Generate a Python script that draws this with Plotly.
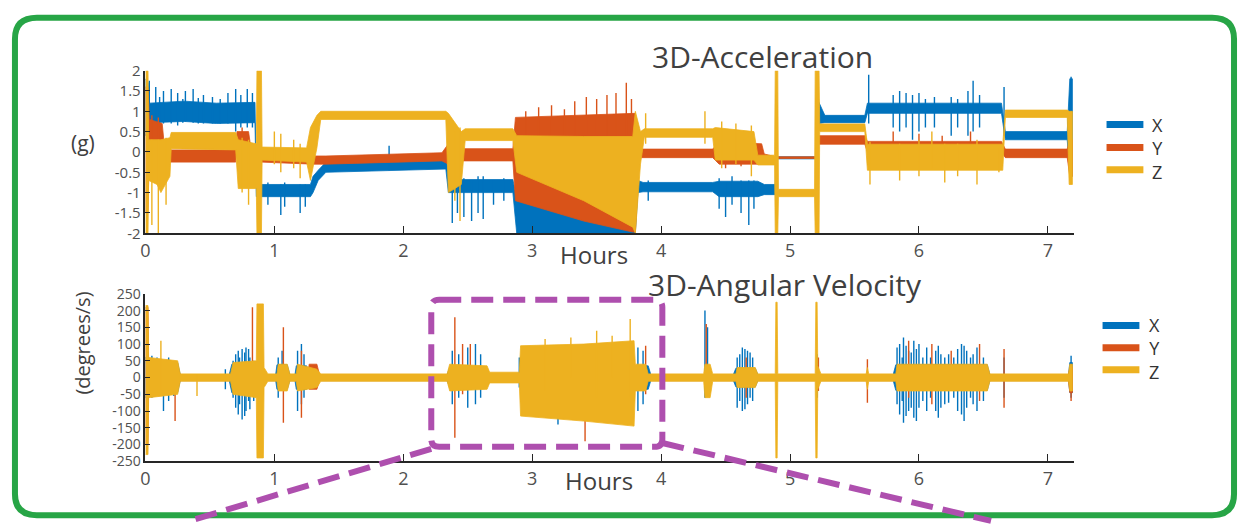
import plotly.graph_objects as go

FIG_W, FIG_H = 1240, 528

SERIES_NAMES = ["X", "Y", "Z"]
SERIES_COLORS = ["#0072BD", "#D95319", "#EDB120"]

HOUR_TICKS = [0, 1, 2, 3, 4, 5, 6, 7]
HOUR_LABELS = ["0", "1", "2", "3", "4", "5", "6", "7"]
ACC_TICKS = [-2, -1.5, -1, -0.5, 0, 0.5, 1, 1.5, 2]
ACC_LABELS = ["-2", "-1.5", "-1", "-0.5", "0", "0.5", "1", "1.5", "2"]
GYRO_TICKS = [-250, -200, -150, -100, -50, 0, 50, 100, 150, 200, 250]
GYRO_LABELS = ["-250", "-200", "-150", "-100", "-50", "0", "50", "100", "150", "200", "250"]

# ---- 3D acceleration (g): envelope (hours, low, high) ----
ACC_X_ENV = [(0.00, 0.4, 1.8), (0.02, 0.5, 1.7), (0.03, 0.72, 1.2), (0.30, 0.75, 1.25), (0.55, 0.7, 1.2),
             (0.85, 0.72, 1.22), (0.86, -1.1, -0.75),
             (0.90, -1.1, -0.8), (1.28, -1.1, -0.8), (1.30, -1.0, -0.6), (1.34, -0.7, -0.45), (1.40, -0.5, -0.25),
             (2.33, -0.42, -0.2), (2.35, -1.0, -0.4), (2.40, -1.0, -0.68), (2.85, -1.0, -0.68), (2.88, -2.0, -1.15),
             (3.80, -2.0, -1.15), (3.82, -1.0, -0.7), (3.86, -0.98, -0.75), (4.40, -0.98, -0.75), (4.45, -1.1, -0.72),
             (4.75, -1.1, -0.72), (4.80, -1.05, -0.8), (4.885, -1.05, -0.8), (4.89, -0.17, -0.12), (5.19, -0.17, -0.12),
             (5.215, -0.17, -0.12), (5.22, 0.7, 1.25), (5.27, 0.72, 0.9), (5.58, 0.72, 0.9), (5.60, 0.95, 1.2),
             (6.64, 0.95, 1.2), (6.67, 0.3, 0.5), (7.15, 0.3, 0.5), (7.17, -0.6, 1.8), (7.19, -0.6, 1.8)]
ACC_Y_ENV = [(0.00, -1.5, 1.6), (0.02, -1.5, 1.6), (0.03, 0.15, 0.8), (0.13, 0.1, 0.7), (0.15, -0.25, 0.05),
             (0.70, -0.25, 0.05), (0.71, 0.05, 0.5), (0.80, 0.05, 0.5), (0.82, -0.3, 0.05), (0.90, -0.25, -0.05),
             (1.30, -0.3, -0.1), (1.40, -0.3, -0.1), (2.30, -0.22, -0.02), (2.35, -0.3, 0.2), (2.45, -0.22, 0.08),
             (2.85, -0.22, 0.08), (2.87, -1.2, 0.85), (3.40, -1.7, 0.9), (3.78, -1.97, 0.95), (3.80, -1.97, 0.95),
             (3.83, -0.14, 0.07), (4.40, -0.14, 0.07), (4.45, -0.3, 0.25), (4.78, -0.3, 0.2), (4.80, -0.22, -0.05),
             (4.885, -0.2, -0.1), (4.89, -0.16, -0.12), (5.19, -0.16, -0.12), (5.215, -0.16, -0.12), (5.22, 0.19, 0.4),
             (5.58, 0.19, 0.4), (5.60, 0.0, 0.26), (6.64, 0.0, 0.26), (6.67, -0.14, 0.07), (7.15, -0.14, 0.07),
             (7.17, -0.6, 0.3), (7.19, -0.6, 0.3)]
ACC_Z_ENV = [(0.00, -2.0, 2.0), (0.02, -2.0, 2.0), (0.025, -0.7, 0.3), (0.09, -0.8, 0.3), (0.12, -1.0, 0.3),
             (0.19, -0.6, 0.35), (0.20, 0.08, 0.48), (0.70, 0.05, 0.48), (0.72, -0.9, 0.3), (0.86, -0.9, 0.2),
             (0.865, -2.0, 2.0), (0.90, -2.0, 2.0), (0.905, -0.2, 0.12), (1.25, -0.25, 0.1), (1.28, -0.7, 0.6),
             (1.33, 0.1, 0.9), (1.36, 0.8, 1.0), (2.33, 0.8, 1.0), (2.35, -1.0, 0.95), (2.45, -0.8, 0.5),
             (2.48, 0.28, 0.57), (2.85, 0.28, 0.57), (2.88, -0.5, 0.4), (3.40, -1.2, 0.38), (3.78, -1.85, 0.38),
             (3.80, -2.0, 1.0), (3.84, -0.3, 0.5), (3.87, 0.36, 0.57), (4.40, 0.36, 0.57), (4.42, -0.2, 0.6),
             (4.72, -0.2, 0.5), (4.75, -0.32, -0.08), (4.88, -0.32, -0.08), (4.885, -2.0, 2.0), (4.905, -2.0, 2.0),
             (4.91, -1.1, -0.92), (5.19, -1.1, -0.92), (5.195, -2.0, 2.0), (5.225, -2.0, 2.0), (5.23, 0.5, 0.69),
             (5.58, 0.5, 0.69), (5.60, -0.45, 0.19), (6.65, -0.45, 0.19), (6.67, 0.85, 1.03), (7.15, 0.85, 1.03),
             (7.165, -0.8, 1.0), (7.19, -0.8, 1.0)]

# spikes (hours, low, high)
ACC_X_SPIKES = [(0.03, 0.3, 1.75), (0.08, 0.6, 1.6), (0.11, 0.65, 1.35), (0.14, 0.7, 1.5), (0.20, 0.7, 1.55),
                (0.25, 0.65, 1.45), (0.29, 0.72, 1.3), (0.31, 0.75, 1.5), (0.37, 0.72, 1.55), (0.41, 0.7, 1.33),
                (0.45, 0.7, 1.4), (0.52, 0.7, 1.35), (0.58, 0.7, 1.3), (0.64, 0.7, 1.45), (0.70, 0.5, 1.55),
                (0.74, 0.6, 1.4), (0.79, 0.6, 1.55), (0.83, 0.6, 1.45),
                (0.95, -1.3, -0.75), (1.05, -1.55, -0.8), (1.08, -1.35, -0.75), (1.20, -1.5, -0.8), (1.24, -1.35, -0.8),
                (1.89, -0.45, 0.15), (2.38, -1.75, -0.6), (2.42, -1.5, -0.7), (2.47, -1.6, -0.65), (2.53, -1.7, -0.7),
                (2.58, -1.5, -0.6), (2.62, -1.65, -0.6), (2.70, -1.3, -0.7), (2.78, -1.2, -0.65), (3.90, -1.2, -0.7),
                (4.45, -1.4, -0.65), (4.50, -1.6, -0.75), (4.55, -1.3, -0.6), (4.62, -1.5, -0.7), (4.68, -1.8, -0.7),
                (4.72, -1.4, -0.7), (5.22, 0.6, 1.3), (5.61, 0.7, 1.9), (5.80, 0.6, 1.4), (5.85, 0.5, 1.5),
                (5.90, 0.6, 1.45), (5.95, 0.3, 1.4), (6.00, 0.5, 1.45), (6.05, 0.6, 1.3), (6.12, 0.6, 1.35),
                (6.25, 0.4, 1.35), (6.30, 0.6, 1.3), (6.38, 0.4, 1.5), (6.42, 0.5, 1.75), (6.47, 0.6, 1.4),
                (6.66, 0.4, 1.6), (7.18, 0.3, 1.85)]
ACC_Y_SPIKES = [(0.05, -0.4, 0.9), (0.10, -0.3, 0.85), (0.75, -0.3, 0.6), (2.95, 0.4, 1.0), (3.05, 0.4, 1.1),
                (3.15, 0.4, 1.15), (3.25, 0.4, 1.05), (3.33, 0.4, 1.25), (3.42, 0.4, 1.35), (3.50, 0.4, 1.3),
                (3.58, 0.4, 1.4), (3.65, 0.4, 1.45), (3.73, 0.4, 1.7), (3.77, 0.4, 1.3), (4.50, -0.4, 0.35),
                (4.62, -0.35, 0.3), (5.80, -0.15, 0.5), (6.00, -0.2, 0.45), (6.18, -0.2, 0.4), (6.40, -0.1, 0.5)]
ACC_Z_SPIKES = [(0.05, -1.8, 0.3), (0.10, -2.0, 0.3), (0.16, -1.3, 0.35), (0.75, -1.0, 0.35), (0.80, -1.3, 0.3),
                (1.00, -0.3, 0.5), (1.05, -0.5, 0.45), (1.15, -0.4, 0.3), (1.20, -0.65, 0.2), (2.40, -1.2, 0.5),
                (2.44, -1.7, 0.6), (3.88, 0.2, 0.95), (4.34, 0.2, 1.0), (4.47, -0.4, 0.75), (4.58, -0.3, 0.7),
                (4.70, -0.6, 0.65), (5.62, -0.8, 0.25), (5.85, -0.7, 0.2), (6.00, -0.6, 0.3), (6.10, -0.4, 0.5),
                (6.20, -0.75, 0.2), (6.30, -0.6, 0.2), (6.45, -0.8, 0.3), (6.62, -0.5, 0.1)]

# ---- 3D angular velocity (degrees/s) ----
GYRO_X_ENV = [(0.00, -60, 60), (0.02, -60, 60), (0.025, -45, 45), (0.25, -45, 45), (0.27, -9, 9),
              (0.65, -9, 9), (0.67, -45, 40), (0.90, -45, 40), (0.93, -9, 9), (1.01, -9, 9),
              (1.02, -35, 38), (1.10, -35, 38), (1.12, -9, 9), (1.16, -9, 9), (1.17, -35, 35),
              (1.25, -35, 35), (1.27, -9, 9), (2.34, -9, 9), (2.36, -30, 30), (2.64, -30, 30),
              (2.66, -9, 9), (3.80, -9, 9), (3.82, -35, 35), (3.90, -35, 35), (3.92, -9, 9),
              (4.56, -9, 9), (4.58, -28, 28), (4.73, -28, 28), (4.75, -9, 9), (5.80, -9, 9),
              (5.82, -38, 38), (6.53, -38, 38), (6.55, -9, 9), (7.16, -9, 9), (7.17, -45, 45), (7.19, -45, 45)]
GYRO_Y_ENV = [(0.00, -200, 210), (0.02, -200, 210), (0.025, -30, 30), (0.25, -30, 30), (0.27, -9, 9),
              (1.26, -9, 9), (1.27, -35, 40), (1.33, -35, 40), (1.35, -9, 9), (7.16, -9, 9),
              (7.17, -45, 30), (7.19, -45, 30)]
GYRO_Z_ENV = [(0.00, -230, 215), (0.02, -230, 215), (0.025, -60, 60), (0.25, -50, 50), (0.27, -11, 11),
              (0.66, -11, 11), (0.68, -50, 45), (0.86, -60, 50), (0.865, -240, 220), (0.915, -240, 220),
              (0.92, -30, 30), (0.95, -11, 11), (1.02, -11, 11), (1.03, -40, 40), (1.10, -40, 40),
              (1.12, -11, 11), (1.17, -11, 11), (1.18, -40, 40), (1.33, -30, 25), (1.36, -11, 11),
              (2.34, -11, 11), (2.36, -40, 40), (2.65, -35, 35), (2.67, -16, 16), (2.90, -16, 16),
              (2.91, -115, 95), (3.40, -130, 100), (3.79, -145, 110), (3.80, -40, 40), (3.88, -40, 40),
              (3.90, -11, 11), (4.33, -11, 11), (4.34, -60, 40), (4.38, -60, 40), (4.40, -11, 11),
              (4.58, -11, 11), (4.59, -30, 30), (4.73, -30, 30), (4.75, -11, 11), (4.885, -11, 11),
              (4.89, -240, 225), (4.90, -240, 225), (4.905, -11, 11), (5.195, -11, 11), (5.20, -240, 225),
              (5.21, -240, 225), (5.215, -35, 35), (5.24, -11, 11), (5.59, -11, 11), (5.60, -35, 30),
              (5.61, -11, 11), (5.82, -11, 11), (5.83, -40, 40), (6.53, -40, 40), (6.55, -11, 11),
              (7.16, -11, 11), (7.17, -40, 40), (7.19, -40, 40)]

GYRO_X_SPIKES = [(0.05, -60, 65), (0.09, -40, 60), (0.14, -100, 50), (0.18, -70, 60), (0.22, -55, 45),
                 (0.62, -35, 25), (0.68, -60, 50), (0.70, -90, 70), (0.72, -110, 80), (0.73, -80, 60),
                 (0.75, -125, 85), (0.77, -115, 75), (0.78, -100, 90), (0.80, -70, 85),
                 (0.81, -95, 60), (0.84, -70, 50), (1.03, -60, 60), (1.06, -40, 80), (1.18, -100, 80),
                 (1.21, -80, 100), (1.23, -60, 70), (2.38, -80, 80), (2.43, -60, 70), (2.50, -90, 90),
                 (2.56, -80, 100), (2.60, -60, 70), (2.90, -30, 60), (3.20, -140, 60), (3.55, -125, 60),
                 (3.82, -100, 90), (3.86, -80, 80), (4.34, -60, 200), (4.36, -40, 150), (4.59, -90, 60),
                 (4.61, -70, 70), (4.63, -100, 90), (4.65, -95, 85), (4.67, -80, 80), (4.69, -60, 75),
                 (4.71, -70, 60), (5.21, -60, 70), (5.83, -80, 90), (5.85, -110, 100), (5.87, -70, 60),
                 (5.88, -135, 120), (5.90, -115, 95), (5.92, -100, 80), (5.94, -90, 75), (5.96, -120, 110),
                 (5.98, -130, 85), (6.00, -90, 100), (6.03, -70, 60), (6.06, -100, 90), (6.09, -60, 60),
                 (6.13, -100, 80), (6.15, -120, 95), (6.17, -90, 70), (6.20, -80, 60), (6.23, -75, 70),
                 (6.27, -60, 60), (6.30, -100, 85), (6.33, -110, 100), (6.35, -130, 95), (6.37, -90, 80),
                 (6.40, -60, 60), (6.42, -80, 70), (6.45, -100, 90), (6.50, -70, 60), (6.66, -60, 60),
                 (7.18, -60, 65)]
GYRO_Y_SPIKES = [(0.01, -200, 205), (0.23, -130, 30), (0.83, -20, 210), (1.07, -135, 150), (1.21, -120, 80),
                 (2.40, -180, 180), (2.46, -50, 100), (2.52, -30, 100), (3.41, -190, 0), (3.88, -50, 95),
                 (4.35, -30, 160), (4.66, -60, 60), (5.22, -40, 60), (5.60, -75, 55), (5.92, -60, 110),
                 (6.10, -80, 100), (6.25, -40, 80), (6.47, -70, 100), (6.66, -90, 85), (7.18, -70, 40)]
GYRO_Z_SPIKES = [(0.12, -40, 110), (0.40, -55, 10), (3.10, -40, 115), (3.30, 0, 120), (3.50, -60, 140),
                 (3.62, 0, 125), (3.76, -60, 175)]

ACC_ENVS = [ACC_X_ENV, ACC_Y_ENV, ACC_Z_ENV]
ACC_SPIKES = [ACC_X_SPIKES, ACC_Y_SPIKES, ACC_Z_SPIKES]
GYRO_ENVS = [GYRO_X_ENV, GYRO_Y_ENV, GYRO_Z_ENV]
GYRO_SPIKES = [GYRO_X_SPIKES, GYRO_Y_SPIKES, GYRO_Z_SPIKES]


def px(x):
    return x / FIG_W


def py(y):
    return 1 - y / FIG_H


def band_xy(env):
    t = [p[0] for p in env]
    lo = [p[1] for p in env]
    hi = [p[2] for p in env]
    return t + t[::-1], hi + lo[::-1]


def spike_xy(sp):
    xs, ys = [], []
    for t, lo, hi in sp:
        xs += [t, t, None]
        ys += [lo, hi, None]
    return xs, ys


fig = go.Figure()

for envs, spikes, xa, ya in [(ACC_ENVS, ACC_SPIKES, "x", "y"), (GYRO_ENVS, GYRO_SPIKES, "x2", "y2")]:
    for name, color, env, sp in zip(SERIES_NAMES, SERIES_COLORS, envs, spikes):
        bx, by = band_xy(env)
        fig.add_trace(go.Scatter(x=bx, y=by, mode="lines", fill="toself", fillcolor=color, name=name,
                                 line=dict(color=color, width=0.8), showlegend=False,
                                 hoverinfo="skip", xaxis=xa, yaxis=ya))
        sx, sy = spike_xy(sp)
        fig.add_trace(go.Scatter(x=sx, y=sy, mode="lines", line=dict(color=color, width=1.4), name=name,
                                 showlegend=False, hoverinfo="skip", xaxis=xa, yaxis=ya))

AX_COLOR = "#262626"
TICK_FONT = dict(family="Open Sans", size=18, color="#505050")
x_common = dict(range=[0, 7.2], domain=[px(141), px(1073)], tickvals=HOUR_TICKS, ticktext=HOUR_LABELS,
                ticks="inside", ticklen=8, tickcolor=AX_COLOR, showline=True, linecolor=AX_COLOR,
                linewidth=1.5, showgrid=False, zeroline=False, tickfont=TICK_FONT, fixedrange=True)

fig.update_layout(
    width=FIG_W, height=FIG_H, autosize=False,
    margin=dict(l=0, r=0, t=0, b=0),
    paper_bgcolor="white", plot_bgcolor="white",
    font=dict(family="Open Sans", color="#333333"),
    showlegend=False,
    xaxis=dict(anchor="y", **x_common),
    xaxis2=dict(anchor="y2", **x_common),
    yaxis=dict(anchor="x", range=[-2, 2], domain=[py(231), py(62)], tickvals=ACC_TICKS, ticktext=ACC_LABELS,
               ticks="inside", ticklen=5, tickcolor=AX_COLOR, showline=True, linecolor=AX_COLOR, linewidth=1.5,
               showgrid=False, zeroline=False, tickfont=dict(family="Open Sans", size=15, color="#505050")),
    yaxis2=dict(anchor="x2", range=[-250, 250], domain=[py(468), py(294)], tickvals=GYRO_TICKS,
                ticktext=GYRO_LABELS, ticks="inside", ticklen=5, tickcolor=AX_COLOR, showline=True,
                linecolor=AX_COLOR, linewidth=1.5, showgrid=False, zeroline=False,
                tickfont=dict(family="Open Sans", size=14, color="#505050")),
)

ann = [
    dict(text="3D-Acceleration", x=px(761), y=py(47), size=30),
    dict(text="3D-Angular Velocity", x=px(783), y=py(284), size=30),
    dict(text="Hours", x=px(591), y=py(253), size=24),
    dict(text="Hours", x=px(596), y=py(488), size=24),
    dict(text="(g)", x=px(78), y=py(137), size=21),
]
for a in ann:
    fig.add_annotation(text=a["text"], x=a["x"], y=a["y"], xref="paper", yref="paper", showarrow=False,
                       xanchor="center", yanchor="middle",
                       font=dict(family="Open Sans", size=a["size"], color="#404040"))
fig.add_annotation(text="(degrees/s)", x=px(78), y=py(345), xref="paper", yref="paper", showarrow=False,
                   textangle=-90, xanchor="center", yanchor="middle",
                   font=dict(family="Open Sans", size=20, color="#404040"))

# legends (line swatch per series + stacked labels) for both panels
LEGEND_ROWS_TOP = [118, 142, 165]
LEGEND_ROWS_BOTTOM = [327, 350, 373]
for rows, x0, x1, xt in [(LEGEND_ROWS_TOP, 1106, 1143, 1157), (LEGEND_ROWS_BOTTOM, 1102, 1139, 1154)]:
    for name, color, yrow in zip(SERIES_NAMES, SERIES_COLORS, rows):
        fig.add_shape(type="line", x0=px(x0), x1=px(x1), y0=py(yrow), y1=py(yrow), xref="paper", yref="paper",
                      line=dict(color=color, width=7))
    fig.add_annotation(text="<br>".join(SERIES_NAMES), x=px(xt), y=py(rows[1] + 1), xref="paper", yref="paper",
                       showarrow=False, xanchor="center", yanchor="middle", align="center",
                       font=dict(family="Open Sans", size=18, color="#333333"))


def rounded_rect(x0, y0, x1, y1, r):
    rx, ry = r / FIG_W, r / FIG_H
    X0, X1 = px(x0), px(x1)
    Y0, Y1 = py(y0), py(y1)  # Y0 is top (higher)
    return (f"M {X0 + rx},{Y0} L {X1 - rx},{Y0} Q {X1},{Y0} {X1},{Y0 - ry} "
            f"L {X1},{Y1 + ry} Q {X1},{Y1} {X1 - rx},{Y1} L {X0 + rx},{Y1} Q {X0},{Y1} {X0},{Y1 + ry} "
            f"L {X0},{Y0 - ry} Q {X0},{Y0} {X0 + rx},{Y0} Z")


GREEN = "#27A546"
MAGENTA = "#AE4FAE"
fig.add_shape(type="path", path=rounded_rect(10, 7, 1234, 524, 22), xref="paper", yref="paper",
              line=dict(color=GREEN, width=6), layer="above")
fig.add_shape(type="path", path=rounded_rect(428, 300, 660, 453, 8), xref="paper", yref="paper",
              line=dict(color=MAGENTA, width=6, dash="22px,10px"), layer="above")
fig.add_shape(type="line", x0=px(428), y0=py(455), x1=px(185), y1=py(530), xref="paper", yref="paper",
              line=dict(color=MAGENTA, width=6, dash="22px,10px"), layer="above")
fig.add_shape(type="line", x0=px(660), y0=py(449), x1=px(990), y1=py(530), xref="paper", yref="paper",
              line=dict(color=MAGENTA, width=6, dash="22px,10px"), layer="above")

fig.write_html("out.html", config={"displayModeBar": False},
               post_script="document.body.style.margin='0';document.body.style.overflow='hidden';")
